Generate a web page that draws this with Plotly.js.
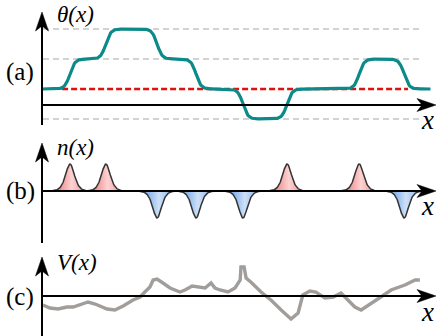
<!DOCTYPE html>
<html><head><meta charset="utf-8">
<script src="https://cdn.plot.ly/plotly-3.0.1.min.js"></script>
<style>html,body{margin:0;padding:0;background:#fff}#g{width:437px;height:336px}</style>
</head><body><div id="g"></div>
<script>
// ---- data ----
const kinkPos  = [7.1, 16.2, 29.2, 39.1, 51.0, 62.2, 80.5, 91.9];   // kink centres (x units)
const kinkSign = [1, 1, -1, -1, -1, 1, 1, -1];                        // +1 kink / -1 antikink
const kinkWidth = 1.3;
const peakWidth = 1.5;
const thetaXStart = 0, thetaXEnd = 98.7;
const guideLevels = [2, 1, -1];            // grey dashed levels of theta
const guideX = [0.25, 95.9];
const refLevel = 0, refX = [5.1, 92.9];    // red dashed line
const vX = [0.25,2.0,4.1,6.3,7.9,9.6,11.7,13.5,14.7,16.5,18.5,20.6,23.1,24.9,26.1,27.4,28.2,29.2,30.7,32.5,35.0,36.3,38.1,39.6,41.4,42.9,43.9,45.2,47.2,49.0,50.3,50.5,51.3,51.8,53.0,55.6,58.1,60.7,63.2,65.0,66.2,68.0,69.5,71.8,73.9,75.9,77.2,79.4,81.0,83.5,86.0,88.6,92.1,94.7,95.9];
const vY = [-0.9,-1.2,-1.3,-1.1,-1.1,-0.9,-0.6,-0.8,-1.0,-1.3,-1.4,-1.0,-0.4,-0.1,0.4,0.9,1.6,1.7,1.3,0.8,0.4,0.6,1.0,0.9,0.8,1.3,0.8,0.6,0.4,0.8,1.6,2.9,2.9,1.8,1.4,0.4,-0.4,-1.4,-2.3,-1.7,0.1,0.5,0.4,-0.2,-0.1,0.3,-0.2,-1.1,-1.4,-0.7,-0.1,0.6,1.1,1.6,1.6];
const panelLabels = ['(a)', '(b)', '(c)'];
const funcLabels = ['θ(x)', 'n(x)', 'V(x)'];

// ---- build curves ----
const traces = [];
guideLevels.forEach(l => traces.push({x: guideX, y: [l, l], yaxis: 'y', mode: 'lines',
  line: {color: '#c4c4c4', width: 1.4, dash: '6px,4px'}, hoverinfo: 'skip'}));
traces.push({x: refX, y: [refLevel, refLevel], yaxis: 'y', mode: 'lines',
  line: {color: '#e0100f', width: 2.6, dash: '6px,3px'}, hoverinfo: 'skip'});
const tx = [], ty = [];
for (let x = thetaXStart; x <= thetaXEnd + 1e-9; x += 0.2) {
  let t = 0;
  kinkPos.forEach((p, i) => t += kinkSign[i] * 0.5 * (1 + Math.tanh((x - p) / kinkWidth)));
  tx.push(x); ty.push(t);
}
traces.push({x: tx, y: ty, yaxis: 'y', mode: 'lines', line: {color: '#0b8a89', width: 3.2}, hoverinfo: 'skip'});

kinkPos.forEach((p, i) => {
  const px = [], py = [];
  for (let x = p - 4.5; x <= p + 4.5 + 1e-9; x += 0.1) {
    const c = 1 / Math.cosh((x - p) / peakWidth);
    px.push(x); py.push(kinkSign[i] * c * c);
  }
  const red = kinkSign[i] > 0;
  traces.push({x: px, y: py, yaxis: 'y2', mode: 'lines', fill: 'tozeroy',
    fillgradient: {type: 'horizontal', colorscale: red ?
      [[0, '#eb6a6a'], [0.4, '#f7b4b4'], [0.55, '#fbd3d3'], [1, '#ee8c8c']] :
      [[0, '#5b93e0'], [0.4, '#a9c9f2'], [0.55, '#cfe0f7'], [1, '#80aee9']]},
    fillcolor: red ? '#f29c9c' : '#94bbee',
    line: {color: '#333', width: 1.5}, hoverinfo: 'skip'});
});
traces.push({x: vX, y: vY, yaxis: 'y3', mode: 'lines', line: {color: '#a19d9b', width: 3.4}, hoverinfo: 'skip'});

// ---- decorations (axes with arrows) in pixel -> paper coords ----
const W = 437, H = 336;
const P = (x, y) => (x / W).toFixed(5) + ',' + (1 - y / H).toFixed(5);
const shapes = [];
function line(x0, y0, x1, y1) {
  shapes.push({type: 'line', xref: 'paper', yref: 'paper', x0: x0 / W, x1: x1 / W, y0: 1 - y0 / H, y1: 1 - y1 / H,
    line: {color: '#000', width: 2}, layer: 'above'});
}
function arrowR(x, y) {
  shapes.push({type: 'path', xref: 'paper', yref: 'paper', layer: 'above',
    path: 'M' + P(x, y) + 'L' + P(x - 19, y - 6.5) + 'L' + P(x - 14, y) + 'L' + P(x - 19, y + 6.5) + 'Z',
    fillcolor: '#000', line: {color: '#000', width: 0.5}});
}
function arrowU(x, y) {
  shapes.push({type: 'path', xref: 'paper', yref: 'paper', layer: 'above',
    path: 'M' + P(x, y) + 'L' + P(x - 6.5, y + 19) + 'L' + P(x, y + 14) + 'L' + P(x + 6.5, y + 19) + 'Z',
    fillcolor: '#000', line: {color: '#000', width: 0.5}});
}
const AX = 42;
[[12, 125, 105], [143, 243, 191], [257, 336, 296]].forEach(([top, bot, zero]) => {
  line(AX, top + 10, AX, bot); arrowU(AX, top);
  line(AX, zero, 430, zero); arrowR(436, zero);
});

const ann = [];
const serif = 'Liberation Serif';
[[72, 15], [191, 147], [297, 262]].forEach(([yl, yf], i) => {
  ann.push({xref: 'paper', yref: 'paper', x: 20 / W, y: 1 - yl / H, text: panelLabels[i], showarrow: false,
    xanchor: 'center', yanchor: 'middle', font: {family: serif, size: 25, color: '#000'}});
  ann.push({xref: 'paper', yref: 'paper', x: 55 / W, y: 1 - yf / H, text: '<i>' + funcLabels[i] + '</i>', showarrow: false,
    xanchor: 'left', yanchor: 'middle', font: {family: serif, size: 23, color: '#000'}});
});
[120, 206, 312].forEach(y => ann.push({xref: 'paper', yref: 'paper', x: 427 / W, y: 1 - y / H, text: '<i>x</i>',
  showarrow: false, xanchor: 'center', yanchor: 'middle', font: {family: serif, size: 27, color: '#000'}}));

const k = 3.94;
const hidden = {visible: false, showgrid: false, zeroline: false, fixedrange: true};
const layout = {
  width: W, height: H, margin: {l: 0, r: 0, t: 0, b: 0}, showlegend: false,
  paper_bgcolor: '#fff', plot_bgcolor: 'rgba(0,0,0,0)',
  xaxis: Object.assign({range: [-AX / k, (W - AX) / k], domain: [0, 1]}, hidden),
  yaxis: Object.assign({range: [(89 - H) / 30, 89 / 30], domain: [0, 1]}, hidden),
  yaxis2: Object.assign({range: [(191 - H) / 27, 191 / 27], overlaying: 'y', anchor: 'x'}, hidden),
  yaxis3: Object.assign({range: [(296 - H) / 10, 296 / 10], overlaying: 'y', anchor: 'x'}, hidden),
  shapes: shapes, annotations: ann
};
Plotly.newPlot('g', traces, layout, {staticPlot: true, displayModeBar: false});
</script></body></html>
